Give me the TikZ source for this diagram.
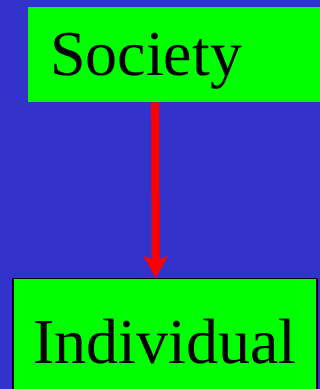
\documentclass[tikz,border=0pt]{standalone}
\usepackage{fontspec}
\setmainfont{Liberation Serif}
\usetikzlibrary{arrows.meta}
\definecolor{bgblue}{RGB}{51,51,204}
\definecolor{boxgreen}{RGB}{0,255,0}
\definecolor{arrred}{RGB}{255,0,0}
\begin{document}
\begin{tikzpicture}[x=1pt,y=1pt,
  greenbox/.style={fill=boxgreen, inner sep=0pt, font=\fontsize{64}{70}\selectfont},
  arr/.style={draw=arrred, line width=8pt, -{Stealth[length=22pt,width=24pt,inset=5pt]}}]
\fill[bgblue] (0,0) rectangle (320,389);
\useasboundingbox (0,0) rectangle (320,389);
\node[greenbox, anchor=north west, minimum width=292pt, text width=248pt, align=left,
  inner xsep=22pt, text height=68pt, text depth=27pt] (soc) at (28,382) {Society};
\node[greenbox, draw=black, line width=1.5pt, anchor=north west, minimum width=304pt,
  text height=85pt, text depth=40pt] (ind) at (12,111) {Individual};
\draw[arr] ([xshift=-19pt]soc.south) -- ([xshift=-9pt]ind.north);
\end{tikzpicture}
\end{document}
